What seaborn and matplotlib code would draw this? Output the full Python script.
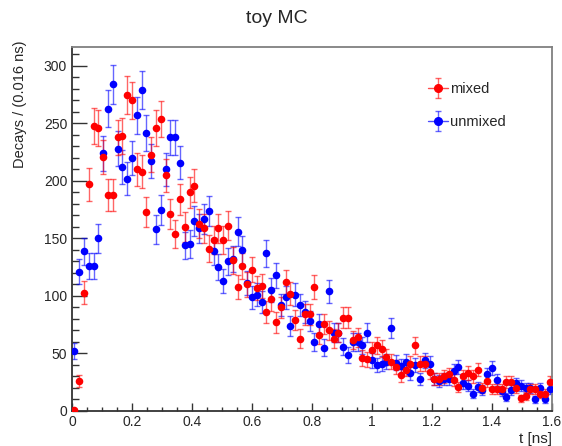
import numpy as np
import pandas as pd
import matplotlib
matplotlib.use("Agg")
import matplotlib.pyplot as plt
import seaborn as sns
from matplotlib.lines import Line2D
from matplotlib.container import ErrorbarContainer
from matplotlib.legend_handler import HandlerErrorbar, HandlerTuple
from matplotlib.ticker import MultipleLocator

# Histogram binning: 100 bins over 0 - 1.6 ns
bin_edges = np.linspace(0.0, 1.6, 101)

# Bin contents (decays per 0.016 ns)
mixed = [1, 26, 103, 197, 248, 246, 221, 188, 188, 238,
         239, 275, 270, 210, 208, 173, 223, 246, 254, 205,
         171, 154, 184, 160, 190, 196, 163, 159, 141, 149,
         159, 149, 161, 131, 108, 126, 110, 123, 107, 109,
         86, 97, 77, 90, 112, 102, 79, 63, 84, 84,
         108, 66, 76, 70, 63, 68, 81, 81, 62, 64,
         46, 45, 53, 57, 54, 47, 43, 38, 31, 36,
         41, 57, 41, 41, 34, 28, 28, 30, 32, 27,
         21, 30, 33, 30, 36, 20, 26, 19, 19, 19,
         25, 25, 20, 11, 13, 19, 19, 15, 15, 25]

unmixed = [52, 121, 139, 126, 126, 150, 224, 263, 284, 228,
           212, 202, 220, 257, 279, 242, 217, 158, 175, 210,
           238, 238, 216, 144, 145, 165, 159, 167, 174, 139,
           125, 113, 130, 132, 156, 140, 111, 99, 101, 95,
           137, 105, 118, 92, 99, 74, 101, 92, 86, 78,
           60, 76, 55, 104, 68, 68, 56, 49, 60, 60,
           57, 68, 44, 40, 41, 43, 72, 42, 39, 43,
           33, 40, 28, 44, 41, 28, 26, 28, 28, 35,
           38, 24, 22, 15, 21, 18, 32, 37, 27, 17,
           12, 18, 24, 22, 20, 20, 10, 20, 10, 19]

series_names = ["mixed", "unmixed"]
series_colors = {"mixed": "#ff0000", "unmixed": "#0000ff"}

x_ticks = [0, 0.2, 0.4, 0.6, 0.8, 1.0, 1.2, 1.4, 1.6]
y_ticks = [0, 50, 100, 150, 200, 250, 300]

centers = 0.5 * (bin_edges[:-1] + bin_edges[1:])
df = pd.concat([
    pd.DataFrame({"t": centers, "n": mixed, "sample": "mixed"}),
    pd.DataFrame({"t": centers, "n": unmixed, "sample": "unmixed"}),
], ignore_index=True)
df["err"] = np.sqrt(df["n"].astype(float))

sns.set_theme(style="ticks")
plt.rcParams["font.family"] = ["Liberation Sans", "DejaVu Sans"]

fig = plt.figure(figsize=(5.62, 4.46), dpi=100)
ax = fig.add_axes([72 / 562, 35 / 446, 480 / 562, 364 / 446])

containers = {}
# unmixed underneath, mixed on top
for name in ["unmixed", "mixed"]:
    sub = df[df["sample"] == name]
    col = series_colors[name]
    containers[name] = ax.errorbar(sub["t"], sub["n"], yerr=sub["err"], fmt="none",
                                   ecolor=col, alpha=0.6, elinewidth=1.0,
                                   capsize=2.2, capthick=1.0, zorder=2)
    sns.scatterplot(data=sub, x="t", y="n", color=col, s=30, linewidth=0,
                    marker="o", ax=ax, zorder=3, legend=False)

ax.set_xlim(0, 1.6)
ax.set_ylim(0, 316.5)
ax.set_xlabel("")
ax.set_ylabel("")

ax.xaxis.set_minor_locator(MultipleLocator(0.05))
ax.yaxis.set_minor_locator(MultipleLocator(10))
ax.set_xticks(x_ticks)
ax.set_xticklabels([f"{v:g}" for v in x_ticks])
ax.set_yticks(y_ticks)
ax.set_yticklabels([f"{v:g}" for v in y_ticks])

ax.tick_params(axis="y", which="major", direction="in", length=10.5, width=1.0,
               color="#333333", labelsize=10, pad=3.5, right=False)
ax.tick_params(axis="y", which="minor", direction="in", length=5.2, width=1.0,
               color="#333333", right=False)
ax.tick_params(axis="x", which="major", direction="in", length=5.8, width=1.0,
               color="#333333", labelsize=10, pad=3.0, top=False)
ax.tick_params(axis="x", which="minor", direction="in", length=2.9, width=1.0,
               color="#333333", top=False)

for side in ["left", "bottom"]:
    ax.spines[side].set_color("#333333")
    ax.spines[side].set_linewidth(1.3)
for side in ["top", "right"]:
    ax.spines[side].set_visible(True)
    ax.spines[side].set_color("#808080")
    ax.spines[side].set_linewidth(1.3)

# Legend: marker with vertical error bar and a horizontal stroke
handles = []
for name in series_names:
    col = series_colors[name]
    hline = Line2D([], [], color=col, lw=1.0, alpha=0.7)
    marker = Line2D([], [], color=col, ls="none", marker="o", ms=5.5)
    handles.append((hline, containers[name], marker))
leg = ax.legend(handles, series_names,
                handler_map={ErrorbarContainer: HandlerErrorbar(yerr_size=0.7),
                             tuple: HandlerTuple(ndivide=1)},
                loc="upper left", bbox_to_anchor=(428 / 562, 1 - 82 / 446),
                bbox_transform=fig.transFigure, frameon=False, fontsize=10.5,
                handlelength=1.38, handletextpad=0.1, labelspacing=1.33,
                borderpad=0, borderaxespad=0)

fig.text(0.493, 1 - 23 / 446, "toy MC", ha="center", va="baseline", fontsize=14)
fig.text(552 / 562, 1 - 443 / 446, "t [ns]", ha="right", va="baseline", fontsize=11)
fig.text(20 / 562, 1 - 41 / 446, "Decays / (0.016 ns)", rotation=90,
         ha="center", va="top", fontsize=10.5)

fig.savefig("out.png", dpi=100, facecolor="white")
